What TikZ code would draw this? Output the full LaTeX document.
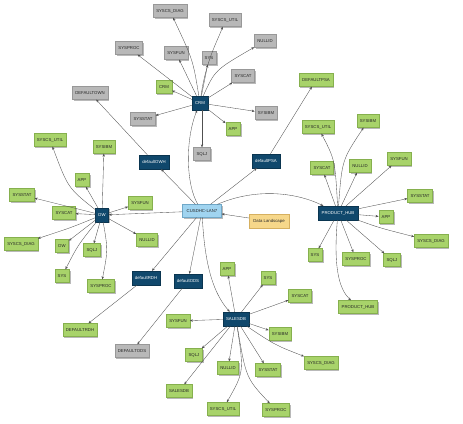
\documentclass[tikz,border=0pt]{standalone}
\usepackage{fontspec}
\setmainfont{Liberation Sans}
\usetikzlibrary{arrows.meta,shadows}
\definecolor{hubblue}{HTML}{10486C}
\definecolor{hubblueD}{HTML}{0A3550}
\definecolor{lgreen}{HTML}{A8D36A}
\definecolor{lgreenD}{HTML}{86B04E}
\definecolor{lgray}{HTML}{B8B8B8}
\definecolor{lgrayD}{HTML}{989898}
\definecolor{cusblue}{HTML}{A0D4F0}
\definecolor{cusblueD}{HTML}{70A8C8}
\definecolor{dlyellow}{HTML}{F6D78A}
\definecolor{dlyellowD}{HTML}{D6B060}
\definecolor{edgecol}{HTML}{505050}
\begin{document}
\begin{tikzpicture}[x=1pt,y=-1pt,
  base/.style={rectangle, font=\fontsize{4.3}{5}\selectfont, minimum height=13pt,
    inner xsep=3pt, inner ysep=1pt, line width=0.3pt,
    drop shadow={shadow xshift=1.3pt, shadow yshift=-1.3pt, fill=black!50, opacity=0.55}},
  leafg/.style={base, fill=lgreen, draw=lgreenD, text=black!85},
  leafgr/.style={base, fill=lgray, draw=lgrayD, text=black!85},
  hub/.style={base, fill=hubblue, draw=hubblueD, text=white, minimum height=14pt},
  center/.style={base, fill=cusblue, draw=cusblueD, text=black!85, minimum width=39pt},
  landscape/.style={base, fill=dlyellow, draw=dlyellowD, text=black!85, minimum width=40pt, minimum height=14pt},
  edge/.style={draw=edgecol, line width=0.35pt, -{Stealth[length=3pt,width=2.4pt]}}
]
\useasboundingbox (0,0) rectangle (463,423);

% hubs
\node[center] (cus) at (202,211) {CUSDHC-LAN7};
\node[landscape] (dl) at (269,221) {Data Landscape};
\node[hub] (crm) at (200,103) {CRM};
\node[hub] (dw) at (102,215) {DW};
\node[hub] (owh) at (154,162) {defaultOWH};
\node[hub] (psa) at (266,161) {defaultPSA};
\node[hub] (rdh) at (146,278) {defaultRDH};
\node[hub] (ods) at (188,281) {defaultODS};
\node[hub] (sales) at (236,319) {SALESDB};
\node[hub, minimum width=40pt] (ph) at (338,213) {PRODUCT\_HUB};

% CRM leaves
\node[leafgr] (c_diag) at (170,11) {SYSCS\_DIAG};
\node[leafgr] (c_util) at (225,20) {SYSCS\_UTIL};
\node[leafgr] (c_null) at (265,41) {NULLID};
\node[leafgr] (c_proc) at (129,48) {SYSPROC};
\node[leafgr] (c_fun) at (176,53) {SYSFUN};
\node[leafgr] (c_sys) at (209,58) {SYS};
\node[leafgr] (c_cat) at (243,76) {SYSCAT};
\node[leafg] (c_crm) at (164,87) {CRM};
\node[leafgr] (c_ibm) at (266,113) {SYSIBM};
\node[leafg] (c_app) at (233,129) {APP};
\node[leafgr] (c_sqlj) at (202,154) {SQLJ};
\node[leafgr] (c_stat) at (143,119) {SYSSTAT};
\node[leafgr] (down) at (90,93) {DEFAULTOWN};

% DW leaves
\node[leafg] (d_util) at (50,140) {SYSCS\_UTIL};
\node[leafg] (d_ibm) at (104,147) {SYSIBM};
\node[leafg] (d_app) at (82,180) {APP};
\node[leafg] (d_stat) at (22,195) {SYSSTAT};
\node[leafg] (d_fun) at (140,203) {SYSFUN};
\node[leafg] (d_cat) at (64,213) {SYSCAT};
\node[leafg] (d_diag) at (21,244) {SYSCS\_DIAG};
\node[leafg] (d_dw) at (62,246) {DW};
\node[leafg] (d_sqlj) at (92,250) {SQLJ};
\node[leafg] (d_null) at (147,240) {NULLID};
\node[leafg] (d_sys) at (62,276) {SYS};
\node[leafg] (d_proc) at (101,286) {SYSPROC};

\node[leafg] (drdh) at (80,330) {DEFAULTRDH};
\node[leafgr] (dods) at (132,351) {DEFAULTODS};
\node[leafg] (dpsa) at (316,80) {DEFAULTPSA};

% PRODUCT_HUB leaves
\node[leafg] (p_util) at (318,127) {SYSCS\_UTIL};
\node[leafg] (p_ibm) at (368,121) {SYSIBM};
\node[leafg] (p_cat) at (322,168) {SYSCAT};
\node[leafg] (p_null) at (360,166) {NULLID};
\node[leafg] (p_fun) at (399,159) {SYSFUN};
\node[leafg] (p_stat) at (420,196) {SYSSTAT};
\node[leafg] (p_app) at (386,217) {APP};
\node[leafg] (p_diag) at (431,241) {SYSCS\_DIAG};
\node[leafg] (p_sys) at (315,255) {SYS};
\node[leafg] (p_proc) at (356,259) {SYSPROC};
\node[leafg] (p_sqlj) at (392,260) {SQLJ};
\node[leafg] (p_ph) at (358,307) {PRODUCT\_HUB};

% SALESDB leaves
\node[leafg] (s_app) at (227,269) {APP};
\node[leafg] (s_sys) at (268,278) {SYS};
\node[leafg] (s_cat) at (300,296) {SYSCAT};
\node[leafg] (s_fun) at (178,321) {SYSFUN};
\node[leafg] (s_ibm) at (280,334) {SYSIBM};
\node[leafg] (s_sqlj) at (194,355) {SQLJ};
\node[leafg] (s_null) at (228,368) {NULLID};
\node[leafg] (s_stat) at (268,370) {SYSSTAT};
\node[leafg] (s_diag) at (321,363) {SYSCS\_DIAG};
\node[leafg] (s_sales) at (179,391) {SALESDB};
\node[leafg] (s_util) at (223,409) {SYSCS\_UTIL};
\node[leafg] (s_proc) at (276,410) {SYSPROC};

% CRM edges
\draw[edge] (crm) .. controls (193,60) .. (c_diag);
\draw[edge] (crm) .. controls (206,60) and (218,40) .. (c_util);
\draw[edge] (crm) .. controls (215,70) .. (c_null);
\draw[edge] (crm) -- (c_proc);
\draw[edge] (crm) -- (c_fun);
\draw[edge] (crm) -- (c_sys);
\draw[edge] (crm) -- (c_cat);
\draw[edge] (crm) -- (c_crm);
\draw[edge] (crm) -- (c_ibm);
\draw[edge] (crm) -- (c_app);
\draw[edge] (crm.south -| c_sqlj) -- (c_sqlj);
\draw[edge] (crm) -- (c_stat);

% central edges
\draw[edge] (cus) .. controls (186,185) and (185,140) .. (crm);
\draw[edge] (cus) -- (owh);
\draw[edge] (cus) -- (psa);
\draw[edge] (cus) -- (dw);
\draw[edge] (cus) -- (rdh);
\draw[edge] (cus) -- (ods);
\draw[edge] (cus) .. controls (205,270) and (215,295) .. (sales);
\draw[edge] (cus) .. controls (255,188) and (295,192) .. (ph);
\draw[edge] (dl) -- (cus);
\draw[edge] (owh) -- (down);
\draw[edge] (psa) -- (dpsa);
\draw[edge] (rdh) -- (drdh);
\draw[edge] (ods) -- (dods);

% DW edges
\draw[edge] (dw) .. controls (68,188) .. (d_util);
\draw[edge] (dw) -- (d_ibm);
\draw[edge] (dw) -- (d_app);
\draw[edge] (dw) -- (d_stat);
\draw[edge] (dw) -- (d_fun);
\draw[edge] (dw) -- (d_cat);
\draw[edge] (dw) .. controls (70,228) .. (d_diag);
\draw[edge] (dw) -- (d_dw);
\draw[edge] (dw) -- (d_sqlj);
\draw[edge] (dw) -- (d_null);
\draw[edge] (dw) .. controls (78,245) .. (d_sys);
\draw[edge] (dw) .. controls (108,250) .. (d_proc);

% PRODUCT_HUB edges
\draw[edge] (ph) .. controls (335,160) .. (p_util);
\draw[edge] (ph) .. controls (342,160) .. (p_ibm);
\draw[edge] (ph) -- (p_cat);
\draw[edge] (ph) -- (p_null);
\draw[edge] (ph) -- (p_fun);
\draw[edge] (ph) -- (p_stat);
\draw[edge] (ph) -- (p_app);
\draw[edge] (ph) .. controls (380,228) .. (p_diag);
\draw[edge] (ph) -- (p_sys);
\draw[edge] (ph) -- (p_proc);
\draw[edge] (ph) -- (p_sqlj);
\draw[edge] (ph) .. controls (333,270) and (340,290) .. (p_ph);

% SALESDB edges
\draw[edge] (sales) -- (s_app);
\draw[edge] (sales) -- (s_sys);
\draw[edge] (sales) -- (s_cat);
\draw[edge] (sales) -- (s_fun);
\draw[edge] (sales) -- (s_ibm);
\draw[edge] (sales) -- (s_sqlj);
\draw[edge] (sales) -- (s_null);
\draw[edge] (sales) -- (s_stat);
\draw[edge] (sales) .. controls (275,345) .. (s_diag);
\draw[edge] (sales) -- (s_sales);
\draw[edge] (sales) .. controls (244,372) .. (s_util);
\draw[edge] (sales) .. controls (246,378) .. (s_proc);
\end{tikzpicture}
\end{document}
